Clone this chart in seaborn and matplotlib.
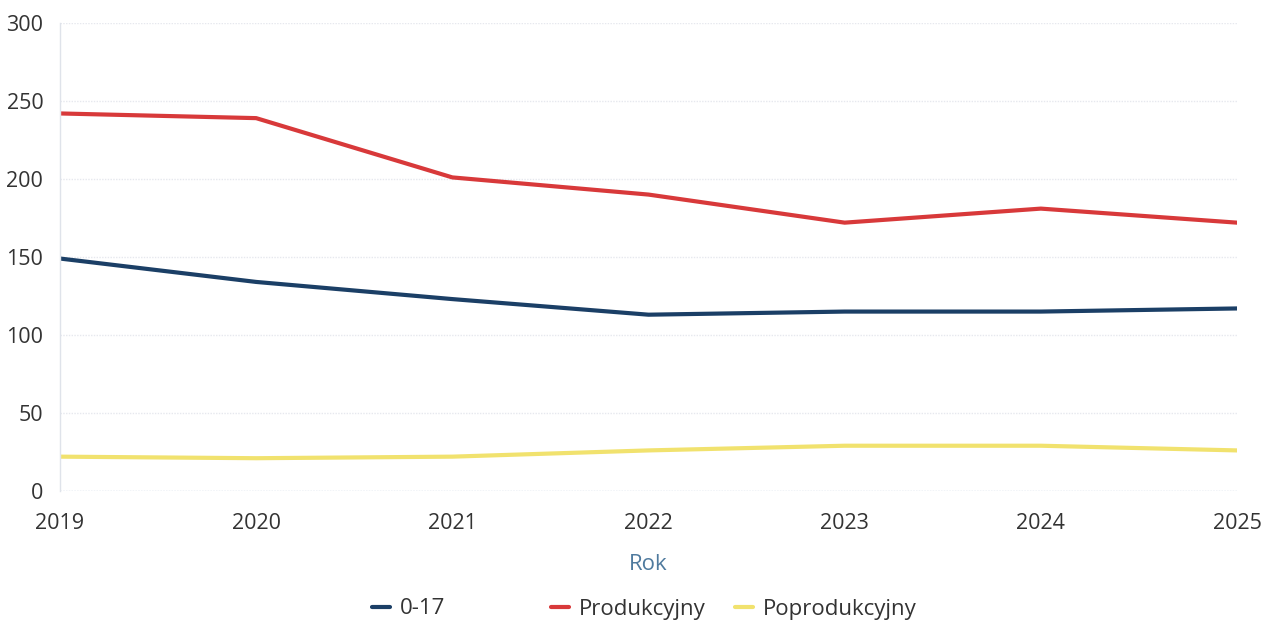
import pandas as pd
import seaborn as sns
import matplotlib.pyplot as plt

years = [2019, 2020, 2021, 2022, 2023, 2024, 2025]
wiek_0_17 = [149, 134, 123, 113, 115, 115, 117]
produkcyjny = [242, 239, 201, 190, 172, 181, 172]
poprodukcyjny = [22, 21, 22, 26, 29, 29, 26]
series_names = ["0-17", "Produkcyjny", "Poprodukcyjny"]
colors = ["#1b3f66", "#d8393a", "#f1e26e"]

df = pd.DataFrame({"Rok": years, "0-17": wiek_0_17,
                   "Produkcyjny": produkcyjny, "Poprodukcyjny": poprodukcyjny})
long = df.melt(id_vars="Rok", var_name="Grupa", value_name="Wartosc")

sns.set_style("white")
plt.rcParams['font.family'] = ['Open Sans', 'DejaVu Sans']

fig = plt.figure(figsize=(12.63, 6.26), dpi=100)
ax = fig.add_axes([0.0475, 0.2157, 0.9319, 0.7476])

sns.lineplot(data=long, x="Rok", y="Wartosc", hue="Grupa", hue_order=series_names,
             palette=colors, linewidth=3, ax=ax)

ax.set_xlim(2019, 2025)
ax.set_ylim(0, 300)
ax.set_yticks(range(0, 301, 50))
ax.set_xticks(years)
ax.set_xticklabels([str(y) for y in years])
ax.tick_params(axis='both', length=0, labelsize=15.5, colors="#333333")
ax.tick_params(axis='x', pad=16)
ax.tick_params(axis='y', pad=12)
ax.grid(axis='y', color="#e6e8ee", linewidth=1, linestyle=(0, (1, 1)))
for s in ["top", "right", "bottom"]:
    ax.spines[s].set_visible(False)
ax.spines["left"].set_color("#dfe3ea")
ax.spines["left"].set_linewidth(1)
ax.axhline(0, color="#c9d8ea", linewidth=1, linestyle=(0, (1, 1)), zorder=0)

ax.set_xlabel("Rok", fontsize=16, color="#4f7a9e", labelpad=14)
ax.set_ylabel("")

handles, labels = ax.get_legend_handles_labels()
ax.get_legend().remove()
legend_x = [372, 551, 735]
for h, lab, xp in zip(handles, labels, legend_x):
    fig.legend([h], [lab], loc="center left", bbox_to_anchor=(xp / 1263, 1 - 609 / 626),
               frameon=False, fontsize=16, handlelength=0.8, handletextpad=0.45,
               borderpad=0, borderaxespad=0, labelcolor="#333333")

fig.savefig("out.png", dpi=100)
